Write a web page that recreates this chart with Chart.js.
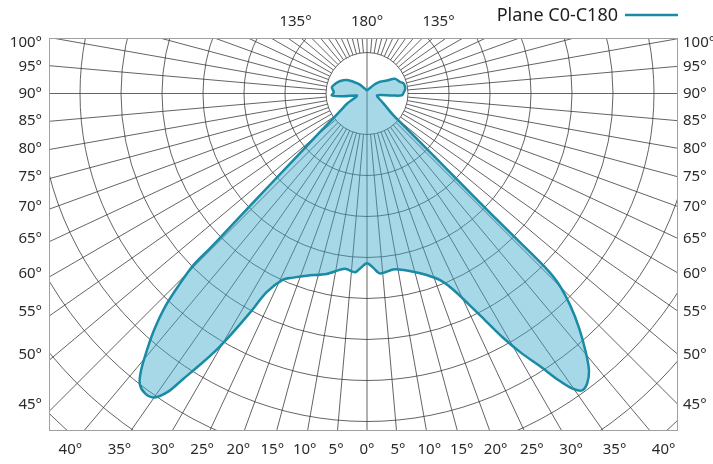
<!DOCTYPE html>
<html>
<head>
<meta charset="utf-8">
<script src="https://cdn.jsdelivr.net/npm/chart.js@4.4.1/dist/chart.umd.min.js"></script>
<style>
  html, body { margin: 0; padding: 0; background: #ffffff; }
  #wrap { width: 713px; height: 464px; }
</style>
</head>
<body>
<div id="wrap"><canvas id="polar" width="713" height="464"></canvas></div>
<script>
// Luminous intensity, plane C0-C180 (cd/klm). Gamma in degrees from nadir;
// negative gamma is the C180 half, positive gamma the C0 half.
const gammaC180 = [-180, -165, -156, -147, -139, -124, -115, -107, -100, -92, -87, -83, -79, -70, -63, -57,
  -50.9, -47.8, -46.3, -45.6, -45.4, -45.3, -44.4, -43.4, -42.1, -40.6, -39.2, -38.0, -36.5, -35.0,
  -33.7, -32.8, -31.6, -30.4, -29.3, -28.1, -26.8, -24.3, -21.9, -18.3, -12.6, -7.2, -3.8, -2, 0];
const intensityC180 = [7, 10, 13, 19, 31, 59, 72, 81, 87, 81, 86, 57, 25, 32, 55, 77,
  143, 243, 378, 485, 538, 597, 659, 718, 772, 825, 872, 900, 910, 905,
  874, 829, 776, 724, 668, 606, 543, 498, 484, 468, 451, 431, 437, 425, 414];

const gammaC0 = [2, 4.1, 9, 14.5, 18.2, 21.4, 23.7, 25.8, 27.6, 29.1, 30.7, 32.4, 33.7, 34.8, 35.9,
  37.2, 38.7, 40.2, 42.1, 43.8, 45.2, 45.7, 45.8, 46.0, 46.8, 48.4, 50.4, 57, 63, 79, 85.4, 87, 92, 97,
  105, 109, 118, 123, 132, 139, 147, 156, 165, 180];
const intensityC0 = [425, 440, 434, 449, 466, 489, 522, 572, 627, 681, 735, 788, 839, 876, 894,
  888, 866, 827, 772, 716, 657, 604, 486, 376, 239, 136, 84, 52, 38, 25, 61, 85, 90, 94,
  93, 86, 77, 58, 43, 31, 19, 13, 10, 7];

// Grid: one circle per ringStep, one spoke every spokeStep degrees
const ringStep = 100;
const ringCount = 12;
const spokeStep = 5;

// Angle labels
const sideTicks = [100, 95, 90, 85, 80, 75, 70, 65, 60, 55, 50, 45];
const bottomTicks = [-40, -35, -30, -25, -20, -15, -10, -5, 0, 5, 10, 15, 20, 25, 30, 35, 40];
const topTicks = [-135, 180, 135];
const seriesName = 'Plane C0-C180';

const toXY = (g, v) => {
  const t = g * Math.PI / 180;
  return { x: (v / ringStep) * Math.sin(t), y: -(v / ringStep) * Math.cos(t) };
};
const curve = [
  ...gammaC180.map((g, i) => toXY(g, intensityC180[i])),
  ...gammaC0.map((g, i) => toXY(g, intensityC0[i]))
];

const LINE = '#1a8ba4';
const FONT = '"Noto Sans", "DejaVu Sans", sans-serif';

const polarGrid = {
  id: 'polarGrid',
  beforeDatasetsDraw(chart) {
    const { ctx, chartArea: a, scales: { x, y } } = chart;
    const cx = x.getPixelForValue(0), cy = y.getPixelForValue(0);
    const unit = x.getPixelForValue(1) - cx;
    ctx.save();
    ctx.beginPath();
    ctx.rect(a.left, a.top, a.right - a.left, a.bottom - a.top);
    ctx.clip();
    ctx.strokeStyle = 'rgba(55,55,55,0.82)';
    ctx.lineWidth = 0.95;
    for (let k = 1; k <= ringCount; k++) {
      ctx.beginPath();
      ctx.arc(cx, cy, k * unit, 0, Math.PI * 2);
      ctx.stroke();
    }
    ctx.beginPath();
    for (let g = 0; g < 360; g += spokeStep) {
      const t = g * Math.PI / 180, s = Math.sin(t), c = Math.cos(t);
      ctx.moveTo(cx + s * unit, cy + c * unit);
      ctx.lineTo(cx + s * unit * 20, cy + c * unit * 20);
    }
    ctx.moveTo(cx, cy - unit);
    ctx.lineTo(cx, cy + unit);
    ctx.stroke();
    ctx.restore();

    ctx.save();
    ctx.strokeStyle = '#a0a0a0';
    ctx.lineWidth = 1;
    ctx.strokeRect(a.left + 0.5, a.top + 0.5, a.right - a.left - 1, a.bottom - a.top - 1);
    ctx.restore();
  },
  afterDraw(chart) {
    const { ctx, chartArea: a, scales: { x, y } } = chart;
    const cx = x.getPixelForValue(0), cy = y.getPixelForValue(0);
    const reach = ((cx - a.left) + (a.right - cx)) / 2 - 3;
    ctx.save();
    ctx.fillStyle = '#2a2a2a';
    ctx.font = '15px ' + FONT;
    ctx.textBaseline = 'middle';

    sideTicks.forEach(d => {
      const t = d * Math.PI / 180;
      const ly = Math.max(cy + reach / Math.tan(t), a.top + 5);
      ctx.textAlign = 'right';
      ctx.fillText(d + '°', a.left - 7, ly);
      ctx.textAlign = 'left';
      ctx.fillText(d + '°', a.right + 5, ly);
    });

    const by = a.bottom + 19;
    ctx.textAlign = 'center';
    bottomTicks.forEach(d => {
      const bx = cx + Math.tan(d * Math.PI / 180) * (by - 3 - cy);
      ctx.fillText(Math.abs(d) + '°', bx, by);
    });

    const ty = a.top - 16;
    topTicks.forEach(d => {
      const t = d * Math.PI / 180;
      const tx = Math.abs(d) === 180 ? cx : cx + Math.sin(t) * (cy - ty) / Math.abs(Math.cos(t));
      ctx.fillText(Math.abs(d) + '°', tx, ty);
    });

    ctx.font = '18px ' + FONT;
    ctx.textAlign = 'right';
    ctx.fillStyle = '#1e1e1e';
    ctx.fillText(seriesName, a.right - 60, a.top - 22);
    ctx.strokeStyle = LINE;
    ctx.lineWidth = 2.5;
    ctx.beginPath();
    ctx.moveTo(a.right - 53, a.top - 23);
    ctx.lineTo(a.right, a.top - 23);
    ctx.stroke();
    ctx.restore();
  }
};

new Chart(document.getElementById('polar'), {
  type: 'scatter',
  data: {
    datasets: [{
      label: seriesName,
      data: curve,
      showLine: true,
      borderColor: LINE,
      borderWidth: 2.5,
      backgroundColor: 'rgba(60,168,205,0.45)',
      fill: 'shape',
      tension: 0.3,
      pointRadius: 0,
      pointHoverRadius: 0
    }]
  },
  options: {
    responsive: false,
    animation: false,
    layout: { padding: { left: 49, right: 35, top: 38, bottom: 33 } },
    scales: {
      x: { type: 'linear', min: -318 / 41, max: 311 / 41, display: false },
      y: { type: 'linear', min: -337.5 / 41, max: 55.5 / 41, display: false }
    },
    plugins: {
      legend: { display: false },
      tooltip: { enabled: false }
    }
  },
  plugins: [polarGrid]
});
</script>
</body>
</html>
